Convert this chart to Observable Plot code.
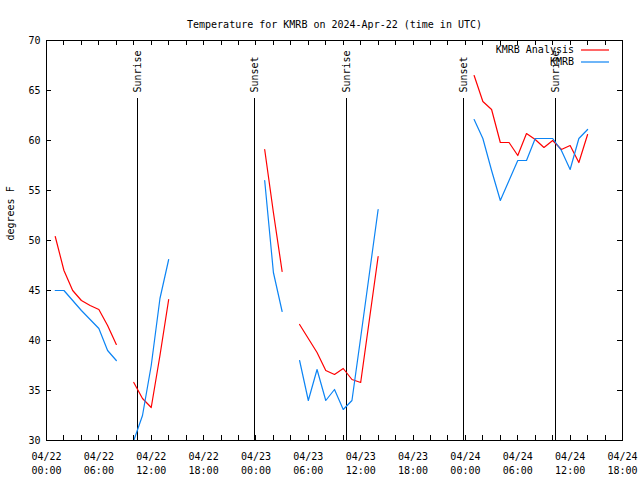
<!DOCTYPE html>
<html><head><meta charset="utf-8">
<script src="https://cdn.jsdelivr.net/npm/d3@7"></script>
<script src="https://cdn.jsdelivr.net/npm/@observablehq/plot@0.6"></script>
<style>html,body{margin:0;padding:0;background:#fff;}</style>
</head><body><div id="chart"></div>
<script>
const titleText = "Temperature for KMRB on 2024-Apr-22 (time in UTC)";
const yLabel = "degrees F";
const seriesNames = ["KMRB Analysis", "KMRB"];
const seriesColors = ["#ff0000", "#0c84f4"];
const startTime = "2024-04-22T00:00:00Z";
const endTime = "2024-04-24T18:00:00Z";

// hours after 2024-04-22 00:00 UTC
const hours = [1,2,3,4,5,6,7,8,9,10,11,12,13,14,15,16,17,18,19,20,21,22,23,24,25,26,27,28,29,30,
  31,32,33,34,35,36,37,38,39,40,41,42,43,44,45,46,47,48,49,50,51,52,53,54,55,56,57,58,59,60,61,62];
const analysis = [50.4,47.0,45.0,44.0,43.5,43.1,41.5,39.6,null,
  35.8,34.2,33.3,38.5,44.1,
  null,null,null,null,null,null,null,null,null,null,
  59.1,52.8,46.9,null,
  41.6,40.2,38.8,37.0,36.6,37.2,36.1,35.8,42.1,48.4,
  null,null,null,null,null,null,null,null,null,null,
  66.5,63.9,63.1,59.8,59.8,58.5,60.7,60.1,59.3,60.0,59.1,59.5,57.8,60.6];
const observed = [45.0,45.0,44.0,43.0,42.1,41.2,39.0,38.0,null,
  30.0,32.5,37.5,44.2,48.1,
  null,null,null,null,null,null,null,null,null,null,
  56.0,46.8,42.9,null,
  38.0,34.0,37.1,34.0,35.1,33.1,34.0,40.3,46.7,53.1,
  null,null,null,null,null,null,null,null,null,null,
  62.1,60.2,57.0,54.0,56.0,58.0,58.0,60.2,60.2,60.2,59.0,57.1,60.2,61.1];

const sunTimes = ["2024-04-22T10:27Z","2024-04-22T23:50Z","2024-04-23T10:22Z","2024-04-23T23:47Z","2024-04-24T10:19Z"];
const sunLabels = ["Sunrise","Sunset","Sunrise","Sunset","Sunrise"];

const xLabelTimes = ["2024-04-22T00:00Z","2024-04-22T06:00Z","2024-04-22T12:00Z","2024-04-22T18:00Z",
  "2024-04-23T00:00Z","2024-04-23T06:00Z","2024-04-23T12:00Z","2024-04-23T18:00Z",
  "2024-04-24T00:00Z","2024-04-24T06:00Z","2024-04-24T12:00Z","2024-04-24T18:00Z"];
const yTicks = [30,35,40,45,50,55,60,65,70];

const t0 = new Date(startTime);
const rows = hours.map((h, i) => ({t: new Date(+t0 + h * 3600e3), a: analysis[i], o: observed[i]}));
const sun = sunTimes.map((s, i) => ({t: new Date(s), label: sunLabels[i]}));
const xLabels = xLabelTimes.map(s => new Date(s));
const xMinor = d3.utcHour.every(2).range(new Date(startTime), new Date(+new Date(endTime) + 1));
const fmt = d3.utcFormat("%m/%d\n%H:%M");

const FONT = "DejaVu Sans Mono";
const FS = 10;
const W = 640, H = 480, ML = 46, MR = 18, MT = 40, MB = 40;
const fw = W - ML - MR, fh = H - MT - MB;

function legend(index, scales, values, dims) {
  const g = d3.create("svg:g");
  const xr = dims.width - dims.marginRight;
  seriesNames.forEach((name, i) => {
    const y = dims.marginTop + 10 + i * 12;
    g.append("text").attr("x", xr - 48).attr("y", y).attr("dy", "0.32em")
      .attr("text-anchor", "end").attr("font-family", FONT).attr("font-size", FS)
      .attr("fill", "black").text(name);
    g.append("line").attr("x1", xr - 41).attr("x2", xr - 13).attr("y1", y).attr("y2", y)
      .attr("stroke", seriesColors[i]).attr("stroke-width", 1.2);
  });
  return g.node();
}

const chart = Plot.plot({
  width: W, height: H,
  marginLeft: ML, marginRight: MR, marginTop: MT, marginBottom: MB,
  style: {fontFamily: FONT, fontSize: FS + "px", background: "white", color: "black"},
  x: {type: "utc", domain: [new Date(startTime), new Date(endTime)], axis: null},
  y: {domain: [30, 70], axis: null},
  marks: [
    // sunrise / sunset
    Plot.ruleX(sun, {x: "t", insetTop: 58, stroke: "black", strokeWidth: 1, shapeRendering: "crispEdges"}),
    Plot.text(sun, {x: "t", text: "label", frameAnchor: "top", dy: 52, rotate: -90,
      textAnchor: "start", lineAnchor: "middle", fontSize: FS, fill: "black"}),
    // data lines
    Plot.line(rows, {x: "t", y: "a", stroke: seriesColors[0], strokeWidth: 1.2, clip: true}),
    Plot.line(rows, {x: "t", y: "o", stroke: seriesColors[1], strokeWidth: 1.2, clip: true}),
    // frame and inward ticks
    Plot.frame({stroke: "black", shapeRendering: "crispEdges"}),
    Plot.ruleX(xMinor, {x: d => d, insetTop: fh - 5, stroke: "black", shapeRendering: "crispEdges"}),
    Plot.ruleX(xMinor, {x: d => d, insetBottom: fh - 5, stroke: "black", shapeRendering: "crispEdges"}),
    Plot.ruleY(yTicks, {y: d => d, insetRight: fw - 5, stroke: "black", shapeRendering: "crispEdges"}),
    Plot.ruleY(yTicks, {y: d => d, insetLeft: fw - 5, stroke: "black", shapeRendering: "crispEdges"}),
    // tick labels
    Plot.text(xLabels, {x: d => d, text: d => fmt(d), frameAnchor: "bottom", dy: 10,
      lineAnchor: "top", lineHeight: 1.4, fontSize: FS, fill: "black"}),
    Plot.text(yTicks, {y: d => d, text: d => String(d), frameAnchor: "left", dx: -6,
      textAnchor: "end", fontSize: FS, fill: "black"}),
    Plot.text([yLabel], {frameAnchor: "left", dx: -36, rotate: -90, fontSize: FS, fill: "black"}),
    Plot.text([titleText], {frameAnchor: "top", dy: -20, fontSize: FS, fill: "black"}),
    legend
  ]
});
document.getElementById("chart").append(chart);
</script>
</body></html>
